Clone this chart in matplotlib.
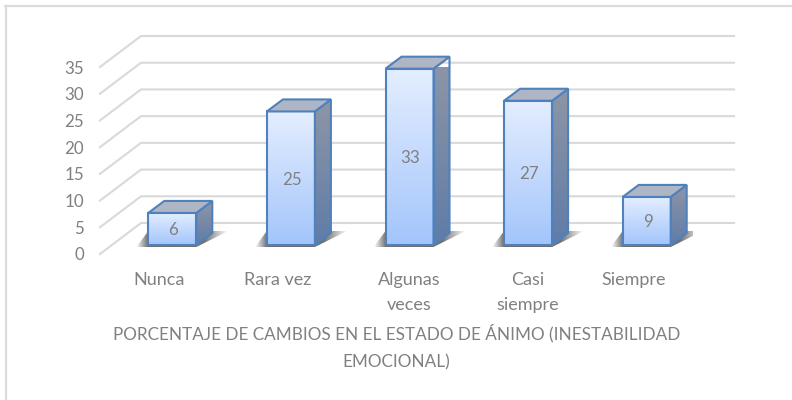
import matplotlib
matplotlib.use('Agg')
import matplotlib.pyplot as plt
import numpy as np
from matplotlib.colors import LinearSegmentedColormap, to_rgb
from matplotlib.lines import Line2D
from matplotlib.patches import Polygon

categorias = ['Nunca', 'Rara vez', 'Algunas\nveces', 'Casi\nsiempre', 'Siempre']
valores = [6, 25, 33, 27, 9]
ticks_y = [0, 5, 10, 15, 20, 25, 30, 35]
titulo = 'PORCENTAJE DE CAMBIOS EN EL ESTADO DE ÁNIMO (INESTABILIDAD\nEMOCIONAL)'

GRIS = '#808080'
LINEA = '#d9d9d9'
BORDE = '#4f81bd'

plt.rcParams['font.family'] = ['Lato', 'DejaVu Sans']

fig = plt.figure(figsize=(7.92, 4), dpi=100)
ax = fig.add_axes([100 / 792, (400 - 254) / 400, 593 / 792, 187 / 400])
ax.set_xlim(-0.5, 4.5)
ax.set_ylim(0, 35)

# escala de un pixel en unidades de datos
px_x = 5 / 593
px_y = 35 / 187
fondo_x = 41 * px_x
fondo_y = 31 * px_y

# marco de la imagen
fig.add_artist(Line2D([5.5 / 792, 5.5 / 792], [0, 1 - 5.5 / 400], color='#dcdcdc', lw=1.6))
fig.add_artist(Line2D([5 / 792, 1], [1 - 5.5 / 400] * 2, color='#dcdcdc', lw=1.6))

# cuadricula: pared lateral y pared del fondo
for t in ticks_y:
    ax.plot([-0.5, -0.5 + fondo_x, 4.5 + fondo_x], [t, t + fondo_y, t + fondo_y],
            color=LINEA, lw=1.5, clip_on=False, zorder=1)


def degradado(poly, arriba, abajo, x0, x1, y0, y1, z):
    cmap = LinearSegmentedColormap.from_list('g', [abajo, arriba])
    im = ax.imshow(np.linspace(0, 1, 128).reshape(-1, 1), cmap=cmap, origin='lower',
                   extent=[x0, x1, y0, y1], aspect='auto', zorder=z)
    parche = Polygon(poly, transform=ax.transData)
    im.set_clip_path(parche)
    im.set_clip_on(True)


ancho = 48 * px_x
lado_x = 16 * px_x
lado_y = 12 * px_y
base = 9 * px_y

for i, v in enumerate(valores):
    x0 = i + 13 * px_x - ancho / 2
    x1 = x0 + ancho
    y0 = base
    y1 = base + v

    # sombra sobre el piso
    sx0 = x0 - 12 * px_x
    sx1 = x1 + lado_x + 16 * px_x
    sombra = [(sx0, y0 - 2 * px_y), (x1, y0 - 2 * px_y), (sx1, y0 + lado_y + 2 * px_y), (x0, y0 + lado_y + 2 * px_y)]
    n = 200
    xs = np.linspace(sx0, sx1, n)
    alfa = np.clip(np.minimum((xs - sx0) / (12 * px_x), (sx1 - xs) / (24 * px_x)), 0, 1) * 0.85
    rgba = np.zeros((1, n, 4))
    rgba[..., :3] = to_rgb('#555555')
    rgba[..., 3] = alfa
    im = ax.imshow(rgba, extent=[sx0, sx1, y0 - 2 * px_y, y0 + lado_y + 2 * px_y], aspect='auto', zorder=2)
    im.set_clip_path(Polygon(sombra, transform=ax.transData))

    frente = [(x0, y0), (x1, y0), (x1, y1), (x0, y1)]
    lado = [(x1, y0), (x1 + lado_x, y0 + lado_y), (x1 + lado_x, y1 + lado_y), (x1, y1)]
    tapa = [(x0, y1), (x1, y1), (x1 + lado_x, y1 + lado_y), (x0 + lado_x, y1 + lado_y)]

    degradado(frente, '#e4eeff', '#a3c5fb', x0, x1, y0, y1, 3)
    degradado(lado, '#8e96a6', '#5f7ca8', x1, x1 + lado_x, y0, y1 + lado_y, 3)
    for p, relleno in [(frente, 'none'), (lado, 'none'), (tapa, '#aeb5c4')]:
        ax.add_patch(Polygon(p, closed=True, facecolor=relleno, edgecolor=BORDE, lw=1.5,
                             joinstyle='miter', clip_on=False, zorder=4))

    ax.text((x0 + x1) / 2 + px_x, (y0 + y1) / 2 - 1.5 * px_y, str(v), color=GRIS, fontsize=12.2,
            ha='center', va='center', zorder=5)

# las etiquetas de dos lineas van centradas bajo la barra
pos_x = [i + (13 * px_x if '\n' in c else 0) for i, c in enumerate(categorias)]
ax.set_xticks(pos_x)
ax.set_xticklabels(categorias, color=GRIS, fontsize=13, linespacing=1.7)
ax.set_yticks(ticks_y)
ax.set_yticklabels([str(t) for t in ticks_y], color=GRIS, fontsize=12.2)
ax.tick_params(axis='x', length=0, pad=13)
ax.tick_params(axis='y', length=0, pad=11.5)
ax.set_xlabel(titulo, color=GRIS, fontsize=12.3, linespacing=1.85, labelpad=8)
ax.set_xlim(-0.5, 4.5)
ax.set_ylim(0, 35)
ax.patch.set_visible(False)
for s in ax.spines.values():
    s.set_visible(False)

fig.savefig('out.png', dpi=100)
